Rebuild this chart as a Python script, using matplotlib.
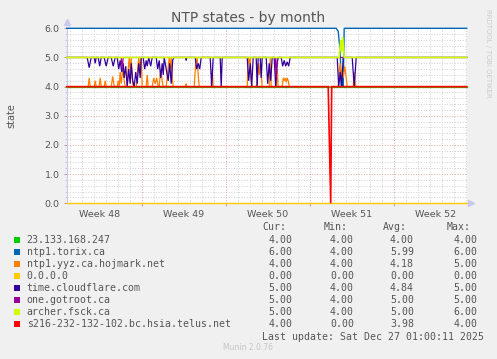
import matplotlib
matplotlib.use('Agg')
import matplotlib.pyplot as plt
from matplotlib.patches import Rectangle
import numpy as np

W, H = 497, 359

# ---------------- data (time in hours since graph start, 800 h span) ----------------
week_bounds = [150, 318, 486, 654]
week_centers = [66, 234, 402, 570, 738]
week_labels = ['Week 48', 'Week 49', 'Week 50', 'Week 51', 'Week 52']
y_ticks = [0, 1, 2, 3, 4, 5, 6]

names = ['23.133.168.247', 'ntp1.torix.ca', 'ntp1.yyz.ca.hojmark.net', '0.0.0.0',
         'time.cloudflare.com', 'one.gotroot.ca', 'archer.fsck.ca',
         's216-232-132-102.bc.hsia.telus.net']
colors = ['#00cc00', '#0066b3', '#ff8000', '#ffcc00', '#330099', '#990099', '#ccff00', '#ff0000']
cur_vals = ['4.00', '6.00', '4.00', '0.00', '5.00', '5.00', '5.00', '4.00']
min_vals = ['4.00', '4.00', '4.00', '0.00', '4.00', '4.00', '4.00', '0.00']
avg_vals = ['4.00', '5.99', '4.18', '0.00', '4.84', '5.00', '5.00', '3.98']
max_vals = ['4.00', '6.00', '5.00', '0.00', '5.00', '5.00', '6.00', '4.00']

green_t = [0, 800]
green_v = [4, 4]

torix_t = [0, 539, 543, 547, 549, 551, 553, 555, 800]
torix_v = [6, 6, 5.9, 5.2, 4.0, 4.5, 4.0, 6, 6]

hojmark_t = [0, 43, 45, 47, 55, 57, 59, 65, 67, 69, 75, 77, 79, 89, 92, 95,
             101, 103, 105, 107, 109, 112, 115, 117,
             121, 123, 125, 127, 129, 131, 133,
             139, 141, 144, 147, 149, 151, 159, 161, 163,
             171, 174, 177, 180, 183, 185, 188, 191, 193,
             199, 202, 205, 207, 209, 211, 213, 238, 239, 240,
             255, 258, 261, 263, 265, 289, 291, 293,
             361, 363, 365, 367, 369, 371, 379, 381, 383, 385, 387, 390, 391,
             405, 407, 409, 419, 421, 423,
             431, 433, 435, 437, 439, 441, 443, 445,
             543, 545, 547, 549, 551, 553, 556, 559, 561, 573, 575, 577, 579, 800]
hojmark_v = [4, 4, 4.3, 4, 4, 4.2, 4, 4, 4.3, 4, 4, 4.2, 4, 4, 4.35, 4,
             4, 4.2, 4, 4.5, 4.1, 4.6, 4.2, 4,
             4, 4.6, 5, 4.5, 5, 4.3, 4,
             4, 4.4, 5, 4.6, 5, 4, 4, 4.4, 4,
             4, 4.3, 4.1, 4.3, 4, 4, 4.6, 4.2, 4,
             4, 4.5, 5, 4.6, 5, 4.3, 4, 4, 4.1, 4,
             4, 4.8, 5, 4.4, 4, 4, 4.6, 4,
             4, 5, 4.8, 5, 4.2, 4, 4, 4.2, 4.8, 4.4, 4.8, 4.2, 4,
             4, 5, 4, 4, 4.6, 4,
             4, 4.3, 4.2, 4.3, 4.15, 4.3, 4.2, 4,
             4, 4.5, 4.8, 4.4, 4.6, 4.3, 4.7, 4.3, 4, 4, 4.5, 4.1, 4, 4]

zero_t = [0, 800]
zero_v = [0, 0]

cloudflare_t = [0, 41, 45, 49, 55, 57, 59, 63, 66, 69, 75, 79, 83, 89, 93, 97,
                101, 104, 107, 110, 113, 115, 118, 121, 124, 127, 129, 132, 135, 138, 141, 144, 147, 149,
                153, 156, 159, 161, 164, 168, 171,
                179, 182, 185, 188, 191, 193, 195, 200, 203, 206, 209, 212, 214,
                238, 239, 240, 257, 260, 263, 266, 269, 287, 290, 293, 307, 309, 311,
                361, 364, 367, 370, 373, 379, 381, 383, 387, 389, 391,
                399, 402, 405, 408, 411, 415, 418, 421, 423,
                429, 432, 435, 438, 441, 444, 447,
                541, 544, 547, 550, 553, 571, 575, 579, 800]
cloudflare_v = [5, 5, 4.65, 5, 5, 4.8, 5, 5, 4.7, 5, 5, 4.7, 5, 5, 4.7, 5,
                5, 4.6, 4.9, 4.5, 4.8, 4.3, 4.7, 4.0, 4.6, 4.1, 4.8, 4.2, 4.0, 4.5, 4.1, 4.8, 4.3, 5,
                5, 4.6, 4.9, 4.7, 5, 4.7, 5,
                5, 4.6, 4.9, 4.3, 4.8, 4.4, 5, 4.5, 4.2, 4.8, 4.1, 4.9, 5,
                5, 4.9, 5, 5, 4.6, 4.8, 4.6, 5, 5, 4.0, 5, 5, 4.0, 5,
                5, 4.2, 4.8, 4.0, 5, 5, 4.0, 5, 5, 4.3, 5,
                5, 4.1, 4.8, 4.2, 5, 5, 4.0, 4.8, 5,
                5, 4.7, 4.9, 4.7, 4.85, 4.7, 5,
                5, 4.0, 4.5, 4.0, 5, 5, 4.0, 5, 5]

gotroot_t = [0, 109, 111, 113, 417, 419, 421, 800]
gotroot_v = [5, 5, 4.6, 5, 5, 4.3, 5, 5]

archer_t = [0, 545, 548, 550, 552, 555, 800]
archer_v = [5, 5, 5.6, 5.2, 5.7, 5, 5]

telus_t = [0, 523, 528, 530, 800]
telus_v = [4, 4, 0, 4, 4]

series_t = [green_t, torix_t, hojmark_t, zero_t, cloudflare_t, gotroot_t, archer_t, telus_t]
series_v = [green_v, torix_v, hojmark_v, zero_v, cloudflare_v, gotroot_v, archer_v, telus_v]
line_w = [0.9, 1.0, 0.9, 1.0, 0.9, 0.9, 1.2, 1.2]

# ---------------- figure ----------------
txt = '#555555'
fig = plt.figure(figsize=(W / 100, H / 100), dpi=100, facecolor='#f0f0f0')
ax = fig.add_axes([66.7 / W, 1 - 203.3 / H, 400 / W, 175 / H])
ax.set_facecolor('white')
ax.set_xlim(0, 800)
ax.set_ylim(0, 6)

dot = dict(lw=0.72, dashes=(1, 1.6), zorder=0)
for y in np.arange(0.2, 6.0, 0.2):
    if abs(y - round(y)) > 1e-6:
        ax.axhline(y, color='#d2d2d2', **dot)
for d in range(6, 800, 24):
    if d not in week_bounds:
        ax.axvline(d, color='#d2d2d2', **dot)
for y in y_ticks[1:-1]:
    ax.axhline(y, color='#e6a8a8', **dot)
for b in week_bounds:
    ax.axvline(b, color='#e6a8a8', **dot)

for t, v, c, w in zip(series_t, series_v, colors, line_w):
    ax.plot(t, v, color=c, lw=w, clip_on=False, zorder=3, solid_joinstyle='miter')

for s in ['top', 'right']:
    ax.spines[s].set_visible(False)
ax.spines['left'].set_color('#c8c8f0')
ax.spines['bottom'].set_color('#c8c8f0')
ax.spines['left'].set_linewidth(0.8)
ax.spines['bottom'].set_linewidth(0.8)

ax.set_yticks(y_ticks)
ax.set_yticklabels(['%.1f' % y for y in y_ticks])
ax.set_yticks(np.arange(0, 6.01, 0.2), minor=True)
ax.set_xticks(week_centers)
ax.set_xticklabels(week_labels)
ax.set_xticks(week_bounds, minor=True)
ax.tick_params(axis='y', which='major', length=2, width=0.7, color='#d09090',
               labelsize=6.8, labelcolor=txt, pad=3)
ax.tick_params(axis='y', which='minor', length=1.5, width=0.5, color='#c0c0c0')
ax.tick_params(axis='x', which='major', length=0, labelsize=6.8, labelcolor=txt, pad=5)
ax.tick_params(axis='x', which='minor', length=2, width=0.7, color='#d09090')
for lab in ax.get_xticklabels() + ax.get_yticklabels():
    lab.set_family('DejaVu Sans')

ax.plot([0], [1.035], marker='^', ms=4, color='#c8c8f0', transform=ax.transAxes,
        clip_on=False, zorder=5)
ax.plot([1.01], [0], marker='>', ms=4, color='#c8c8f0', transform=ax.transAxes,
        clip_on=False, zorder=5)

fig.text(0.5, 1 - 18 / H, 'NTP states - by month', ha='center', va='center',
         fontsize=10, color=txt, family='DejaVu Sans')
fig.text(11 / W, 1 - 115.5 / H, 'state', rotation=90, ha='center', va='center',
         fontsize=7, color=txt, family='DejaVu Sans')
fig.text(488 / W, 1 - 53 / H, 'RRDTOOL / TOBI OETIKER', rotation=-90, ha='center',
         va='center', fontsize=5, color='#cccccc', family='DejaVu Sans')

mono = dict(family='DejaVu Sans Mono', fontsize=7.1, color=txt, va='center')
fig.text(262.7 / W, 1 - 227 / H, 'Cur:', **mono)
fig.text(323.3 / W, 1 - 227 / H, 'Min:', **mono)
fig.text(382.7 / W, 1 - 227 / H, 'Avg:', **mono)
fig.text(446.7 / W, 1 - 227 / H, 'Max:', **mono)
for i, (n, c) in enumerate(zip(names, colors)):
    y = 240 + 12 * i
    fig.add_artist(Rectangle((14 / W, 1 - (y + 3) / H), 6 / W, 6 / H,
                             transform=fig.transFigure, facecolor=c, edgecolor='none'))
    fig.text(26.7 / W, 1 - y / H, n, **mono)
    fig.text(268.3 / W, 1 - y / H, cur_vals[i], **mono)
    fig.text(330 / W, 1 - y / H, min_vals[i], **mono)
    fig.text(390 / W, 1 - y / H, avg_vals[i], **mono)
    fig.text(453.3 / W, 1 - y / H, max_vals[i], **mono)
fig.text(261.7 / W, 1 - 337 / H, 'Last update: Sat Dec 27 01:00:11 2025', **mono)
fig.text(247.7 / W, 1 - 348 / H, 'Munin 2.0.76', ha='center', va='center',
         fontsize=5.5, color='#c4c4c4', family='DejaVu Sans')

fig.savefig('out.png', dpi=100, facecolor=fig.get_facecolor())
